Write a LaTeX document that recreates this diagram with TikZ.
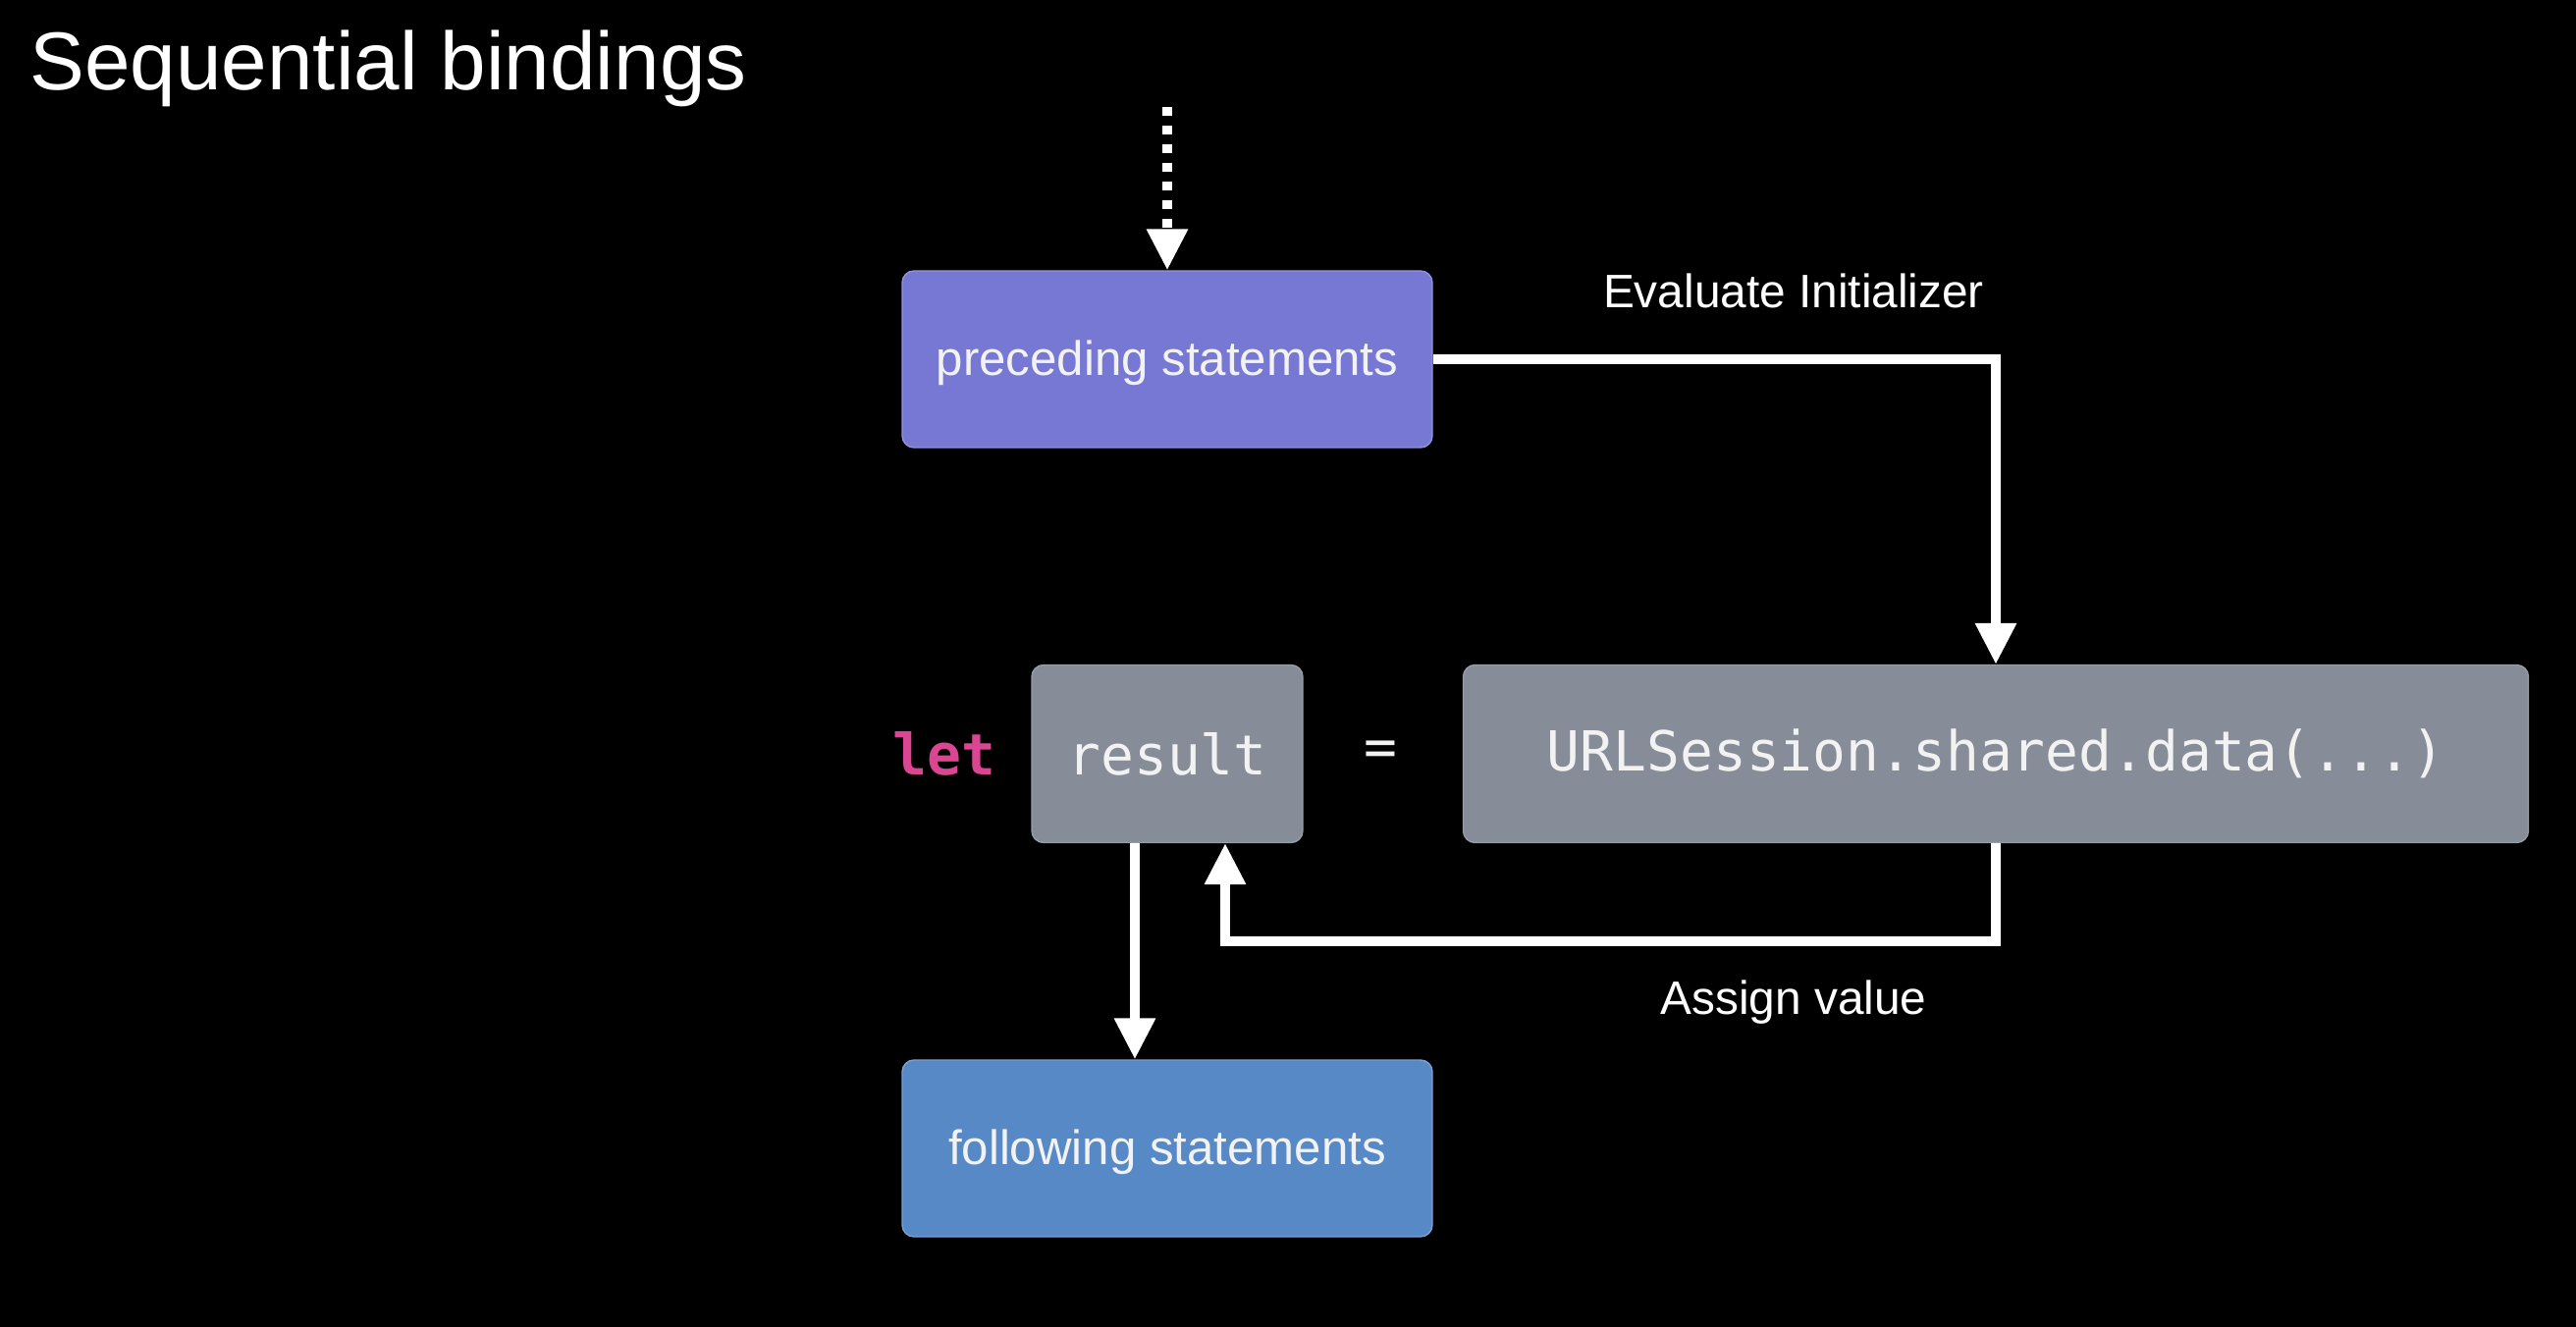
\documentclass[tikz,border=0pt]{standalone}
\usepackage{fontspec}
\setmainfont{Liberation Sans}
\setmonofont{DejaVu Sans Mono}
\usetikzlibrary{arrows.meta}
\definecolor{precblue}{RGB}{118,120,212}
\definecolor{follblue}{RGB}{88,137,199}
\definecolor{codegray}{RGB}{134,141,153}
\definecolor{keypink}{RGB}{218,70,145}
\definecolor{textwhite}{RGB}{242,242,242}

\begin{document}
\begin{tikzpicture}[->,>={Triangle[length=4.2mm,width=4mm]},line width=0.95mm,white,
  stmt node/.style={rectangle,rounded corners=1.2mm,minimum width=5.4cm,minimum height=1.8cm,draw=#1!80!white,line width=0.4pt,fill=#1,text=textwhite,text depth=0.15ex,font=\fontsize{14}{16}\selectfont},
  code node/.style={rectangle,rounded corners=1.2mm,minimum height=1.81cm,draw=codegray!85!white,line width=0.4pt,fill=codegray,text=textwhite,font=\ttfamily\fontsize{16}{18}\selectfont},
  note/.style={text=white,font=\fontsize{13.6}{16}\selectfont}]
  \fill[-,black] (0,0) rectangle (26.24,-13.52);

  \node[anchor=base west,text=white,font=\fontsize{23.8}{28}\selectfont] (title) at (0.14,-0.92) {Sequential bindings};
  \node[stmt node=precblue] (prec) at (11.89,-3.66) {preceding statements};
  \node[code node,minimum width=2.76cm] (res) at (11.89,-7.68) {result};
  \node[code node,minimum width=10.85cm] (call) at (20.33,-7.68) {URLSession.shared.data(...)};
  \node[stmt node=follblue] (foll) at (11.89,-11.70) {following statements};
  \node[text=keypink,font=\ttfamily\bfseries\fontsize{16.5}{18}\selectfont] (let) at (9.62,-7.68) {let};
  \node[text=textwhite,font=\ttfamily\fontsize{16}{18}\selectfont] (eq) at (14.06,-7.68) {=};
  \node[note] (eval) at (18.27,-2.96) {Evaluate Initializer};
  \node[note] (assign) at (18.27,-10.21) {Assign value};

  \coordinate (entry) at (11.89,-1.09);
  \coordinate (split) at (11.56,-8.59);
  \coordinate (back) at (12.48,-9.59);

  \draw[dash pattern=on 0.9mm off 1mm] (entry) -- (prec.north);
  \draw (prec.east) -| (call.north);
  \draw (call.south) |- (back) -- (back |- res.south);
  \draw (split |- res.south) -- (split |- foll.north);
\end{tikzpicture}
\end{document}
